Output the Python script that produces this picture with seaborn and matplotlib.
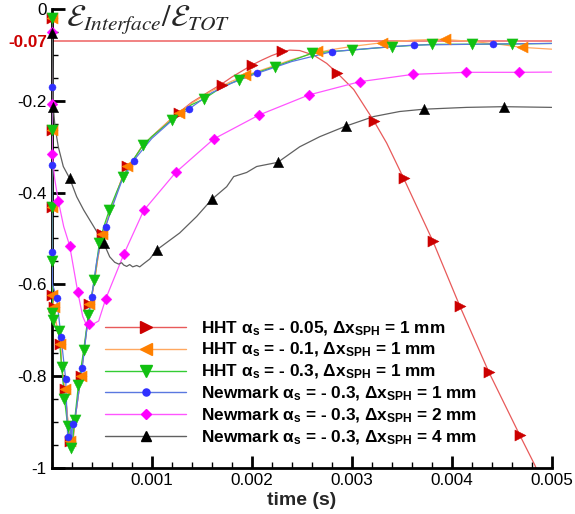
import matplotlib
matplotlib.use("Agg")
import matplotlib.pyplot as plt
from matplotlib.lines import Line2D
from matplotlib.ticker import FixedLocator, MultipleLocator
import seaborn as sns

# ---------------------------------------------------------------
# Interface energy ratio E_interface / E_TOT versus time (s)
# ---------------------------------------------------------------

# HHT alpha_s = -0.05, dx = 1 mm
t_hht005 = [0, 0.000001, 0.000002, 0.000004, 0.000008, 0.00002, 0.00004, 0.00007, 0.00009, 0.0001,
            0.00013, 0.00015, 0.00017, 0.00019, 0.00021, 0.00023, 0.00028, 0.00032, 0.00037, 0.00043,
            0.00046, 0.0005, 0.00055, 0.0006, 0.0007, 0.0008, 0.0009, 0.001, 0.0012, 0.0014,
            0.0016, 0.0017, 0.0018, 0.0019, 0.002, 0.0021, 0.0022, 0.0023, 0.00238, 0.00248,
            0.00262, 0.00275, 0.00285, 0.00302, 0.00322, 0.00335, 0.00352, 0.00381, 0.00408, 0.00437,
            0.00468, 0.00483, 0.0049]
e_hht005 = [-0.02, -0.26, -0.43, -0.55, -0.62, -0.65, -0.68, -0.71, -0.74, -0.78,
            -0.83, -0.87, -0.92, -0.955, -0.95, -0.90, -0.82, -0.75, -0.665, -0.59,
            -0.545, -0.495, -0.465, -0.432, -0.37, -0.335, -0.30, -0.278, -0.238, -0.203,
            -0.176, -0.163, -0.148, -0.135, -0.122, -0.111, -0.101, -0.093, -0.089, -0.09,
            -0.10, -0.118, -0.138, -0.175, -0.243, -0.292, -0.369, -0.505, -0.647, -0.791,
            -0.929, -0.994, -1.03]
tm_hht005 = [0, 0.000001, 0.000002, 0.000005, 0.000026, 0.00008, 0.00013, 0.00018, 0.00029, 0.00037,
             0.0005, 0.00075, 0.00127, 0.0017, 0.002, 0.0023, 0.00285, 0.00322, 0.00352, 0.00381,
             0.00408, 0.00437, 0.00468]
em_hht005 = [-0.02, -0.263, -0.431, -0.624, -0.649, -0.73, -0.829, -0.943, -0.80, -0.642,
             -0.49, -0.342, -0.226, -0.165, -0.122, -0.091, -0.138, -0.243, -0.369, -0.505,
             -0.647, -0.791, -0.929]

# HHT alpha_s = -0.1, dx = 1 mm
t_hht01 = [0, 0.000001, 0.000002, 0.000004, 0.000008, 0.00002, 0.00004, 0.00007, 0.00009, 0.0001,
           0.00013, 0.00015, 0.00017, 0.00019, 0.00021, 0.00023, 0.00028, 0.00032, 0.00037, 0.00043,
           0.00046, 0.0005, 0.00055, 0.0006, 0.0007, 0.0008, 0.0009, 0.001, 0.0012, 0.0014,
           0.0016, 0.0018, 0.002, 0.0022, 0.0024, 0.0026, 0.0028, 0.003, 0.0033, 0.0036,
           0.0039, 0.0042, 0.0045, 0.0047, 0.005]
e_hht01 = [-0.02, -0.26, -0.43, -0.55, -0.62, -0.65, -0.68, -0.71, -0.74, -0.78,
           -0.83, -0.87, -0.92, -0.955, -0.95, -0.90, -0.82, -0.75, -0.665, -0.59,
           -0.545, -0.495, -0.465, -0.432, -0.37, -0.335, -0.30, -0.278, -0.238, -0.205,
           -0.178, -0.157, -0.14, -0.125, -0.11, -0.097, -0.088, -0.081, -0.073, -0.0675,
           -0.0655, -0.070, -0.077, -0.083, -0.087]
tm_hht01 = [0, 0.000001, 0.000002, 0.000005, 0.000026, 0.00008, 0.00013, 0.00018, 0.00029, 0.00037,
            0.0005, 0.00075, 0.00127, 0.00193, 0.00265, 0.0033, 0.00393, 0.0047]
em_hht01 = [-0.02, -0.263, -0.431, -0.624, -0.649, -0.73, -0.829, -0.943, -0.80, -0.642,
            -0.49, -0.342, -0.226, -0.143, -0.092, -0.073, -0.0655, -0.083]

# HHT alpha_s = -0.3, dx = 1 mm
t_hht03 = [0, 0.000001, 0.000002, 0.000003, 0.000008, 0.000012, 0.00003, 0.00007, 0.0001, 0.000128,
           0.00016, 0.000195, 0.00021, 0.00023, 0.000267, 0.00032, 0.000366, 0.000426, 0.000476, 0.00052,
           0.000576, 0.00065, 0.000716, 0.0008, 0.000916, 0.001, 0.0012, 0.0014, 0.00152, 0.0017,
           0.00187, 0.002, 0.00223, 0.0024, 0.0026, 0.0028, 0.003, 0.0034, 0.0038, 0.0042,
           0.0046, 0.005]
e_hht03 = [-0.02, -0.263, -0.431, -0.55, -0.662, -0.678, -0.69, -0.703, -0.78, -0.85,
           -0.91, -0.958, -0.94, -0.896, -0.82, -0.743, -0.667, -0.591, -0.51, -0.475,
           -0.438, -0.398, -0.365, -0.333, -0.296, -0.278, -0.2416, -0.208, -0.196, -0.17,
           -0.154, -0.142, -0.125, -0.112, -0.096, -0.092, -0.089, -0.0816, -0.0764, -0.0762,
           -0.0757, -0.0745]
tm_hht03 = [0, 0.000001, 0.000002, 0.000003, 0.000008, 0.000012, 0.00007, 0.0001, 0.000128, 0.00016,
            0.000195, 0.00023, 0.000267, 0.00032, 0.000366, 0.000426, 0.000476, 0.000576, 0.000716, 0.000916,
            0.0012, 0.00152, 0.00187, 0.00223, 0.0026, 0.003, 0.0034, 0.0038, 0.0042, 0.0046]
em_hht03 = [-0.02, -0.263, -0.431, -0.55, -0.662, -0.678, -0.703, -0.78, -0.85, -0.91,
            -0.958, -0.896, -0.82, -0.743, -0.667, -0.591, -0.51, -0.438, -0.365, -0.296,
            -0.2416, -0.196, -0.154, -0.125, -0.096, -0.089, -0.0816, -0.0764, -0.0762, -0.0757]

# Newmark alpha_s = -0.3, dx = 1 mm
t_nm1 = [0, 0.0000005, 0.0000015, 0.000003, 0.000008, 0.00005, 0.000093, 0.00014, 0.00016, 0.00018,
         0.00019, 0.0002, 0.00021, 0.000216, 0.00023, 0.00028, 0.000306, 0.00035, 0.0004, 0.00045,
         0.0005, 0.00054, 0.0006, 0.0007, 0.00082, 0.001, 0.0012, 0.00137, 0.0016, 0.0018,
         0.00205, 0.0024, 0.0028, 0.0032, 0.00362, 0.00441, 0.005]
e_nm1 = [-0.02, -0.17, -0.34, -0.53, -0.60, -0.63, -0.714, -0.807, -0.934, -0.96,
         -0.90, -0.955, -0.89, -0.905, -0.90, -0.82, -0.782, -0.70, -0.627, -0.55,
         -0.497, -0.474, -0.435, -0.375, -0.33, -0.282, -0.243, -0.218, -0.182, -0.161,
         -0.14, -0.114, -0.0925, -0.085, -0.078, -0.0757, -0.0745]
tm_nm1 = [0.0000005, 0.0000015, 0.000003, 0.00005, 0.000093, 0.00014, 0.00016, 0.000216, 0.000306, 0.0004,
          0.00054, 0.00082, 0.00137, 0.00205, 0.0028, 0.00362, 0.00441]
em_nm1 = [-0.17, -0.34, -0.53, -0.63, -0.714, -0.807, -0.934, -0.905, -0.782, -0.627,
          -0.474, -0.33, -0.218, -0.14, -0.0925, -0.078, -0.0757]

# Newmark alpha_s = -0.3, dx = 2 mm
t_nm2 = [0, 0.0000005, 0.000005, 0.00003, 0.000066, 0.00012, 0.00018, 0.00026, 0.00031, 0.00034,
         0.00037, 0.0004, 0.00043, 0.00047, 0.00054, 0.00072, 0.00092, 0.00124, 0.00162, 0.00207,
         0.00257, 0.00308, 0.00361, 0.00414, 0.00467, 0.005]
e_nm2 = [-0.049, -0.207, -0.316, -0.37, -0.418, -0.474, -0.516, -0.616, -0.67, -0.685,
         -0.687, -0.69, -0.685, -0.68, -0.632, -0.535, -0.439, -0.356, -0.283, -0.231,
         -0.187, -0.158, -0.142, -0.1375, -0.1375, -0.137]
tm_nm2 = [0, 0.0000005, 0.000005, 0.000066, 0.00018, 0.00026, 0.00037, 0.00054, 0.00072, 0.00092,
          0.00124, 0.00162, 0.00207, 0.00257, 0.00308, 0.00361, 0.00414, 0.00467]
em_nm2 = [-0.049, -0.207, -0.316, -0.418, -0.516, -0.616, -0.687, -0.632, -0.535, -0.439,
          -0.356, -0.283, -0.231, -0.187, -0.158, -0.142, -0.1375, -0.1375]

# Newmark alpha_s = -0.3, dx = 4 mm
t_nm4 = [0, 0.000006, 0.000016, 0.000033, 0.000066, 0.000116, 0.00018, 0.00025, 0.00032, 0.00042,
         0.00052, 0.00058, 0.00063, 0.00067, 0.0007, 0.00072, 0.00075, 0.00078, 0.00081, 0.00085,
         0.00088, 0.00092, 0.00098, 0.00105, 0.00128, 0.00145, 0.0016, 0.00175, 0.00182, 0.00195,
         0.00205, 0.00226, 0.00248, 0.00268, 0.00294, 0.00322, 0.00348, 0.00372, 0.00415, 0.00452,
         0.005]
e_nm4 = [-0.02, -0.052, -0.214, -0.256, -0.30, -0.343, -0.369, -0.409, -0.438, -0.474,
         -0.51, -0.54, -0.552, -0.556, -0.553, -0.558, -0.561, -0.557, -0.562, -0.559,
         -0.562, -0.555, -0.545, -0.525, -0.488, -0.452, -0.415, -0.387, -0.365, -0.356,
         -0.343, -0.334, -0.30, -0.278, -0.255, -0.234, -0.223, -0.218, -0.214, -0.2125,
         -0.214]
tm_nm4 = [0.000006, 0.000016, 0.00018, 0.00052, 0.00105, 0.0016, 0.00226, 0.00294, 0.00372, 0.00452]
em_nm4 = [-0.052, -0.214, -0.369, -0.51, -0.525, -0.415, -0.334, -0.255, -0.218, -0.2125]

labels = [
    r"HHT α$_\mathbf{s}$ = - 0.05, Δx$_\mathbf{SPH}$ = 1 mm",
    r"HHT α$_\mathbf{s}$ = - 0.1, Δx$_\mathbf{SPH}$ = 1 mm",
    r"HHT α$_\mathbf{s}$ = - 0.3, Δx$_\mathbf{SPH}$ = 1 mm",
    r"Newmark α$_\mathbf{s}$ = - 0.3, Δx$_\mathbf{SPH}$ = 1 mm",
    r"Newmark α$_\mathbf{s}$ = - 0.3, Δx$_\mathbf{SPH}$ = 2 mm",
    r"Newmark α$_\mathbf{s}$ = - 0.3, Δx$_\mathbf{SPH}$ = 4 mm",
]

x_ticks = [0.001, 0.002, 0.003, 0.004, 0.005]
x_ticklabels = ["0.001", "0.002", "0.003", "0.004", "0.005"]
y_ticks = [0, -0.07, -0.2, -0.4, -0.6, -0.8, -1]
y_ticklabels = ["0", "-0.07", "-0.2", "-0.4", "-0.6", "-0.8", "-1"]
ref_level = -0.07

sns.set_style("ticks")
plt.rcParams["font.family"] = ["Liberation Sans", "DejaVu Sans"]
plt.rcParams["axes.unicode_minus"] = False
plt.rcParams["mathtext.fontset"] = "custom"
plt.rcParams["mathtext.rm"] = "Liberation Sans"
plt.rcParams["mathtext.bf"] = "Liberation Sans:bold"
plt.rcParams["mathtext.it"] = "Liberation Sans:italic"

fig = plt.figure(figsize=(5.75, 5.14), dpi=100)
ax = fig.add_axes([0.0899, 0.0903, 0.8696, 0.8916])

series = [
    (t_hht005, e_hht005, tm_hht005, em_hht005, "#e85a5a", "#cc0000", ">", 64),
    (t_hht01, e_hht01, tm_hht01, em_hht01, "#ffa860", "#ff8000", "<", 64),
    (t_hht03, e_hht03, tm_hht03, em_hht03, "#33cc33", "#11c011", "v", 64),
    (t_nm1, e_nm1, tm_nm1, em_nm1, "#5a78e0", "#3030ff", "o", 26),
    (t_nm2, e_nm2, tm_nm2, em_nm2, "#ff55ff", "#ff00ff", "D", 30),
    (t_nm4, e_nm4, tm_nm4, em_nm4, "#606060", "#000000", "^", 56),
]

ax.axhline(ref_level, color="#f07878", lw=1.3, zorder=1)

handles = []
for i, (t, e, tm, em, lc, mc, mk, ms) in enumerate(series):
    sns.lineplot(x=t, y=e, ax=ax, color=lc, lw=0.9, estimator=None, sort=False,
                 legend=False, zorder=2 + i)
    sns.scatterplot(x=tm, y=em, ax=ax, marker=mk, s=ms, color=mc, edgecolor=mc,
                    linewidth=0.3, legend=False, zorder=10 + i, clip_on=False)
    handles.append(Line2D([], [], color=lc, lw=1.0, marker=mk, markersize=ms ** 0.5,
                          markerfacecolor=mc, markeredgecolor=mc))

ax.set_xlim(0, 0.005)
ax.set_ylim(-1, 0)
ax.xaxis.set_major_locator(FixedLocator(x_ticks))
ax.set_xticklabels(x_ticklabels)
ax.xaxis.set_minor_locator(MultipleLocator(0.0002))
ax.yaxis.set_major_locator(FixedLocator(y_ticks))
ax.set_yticklabels(y_ticklabels)
ax.yaxis.set_minor_locator(MultipleLocator(0.05))

for side in ("top", "right"):
    ax.spines[side].set_visible(False)
for side in ("left", "bottom"):
    ax.spines[side].set_linewidth(2.0)
    ax.spines[side].set_color("black")

ax.tick_params(which="major", direction="in", length=9, width=2, labelsize=12.3,
               colors="black", pad=4)
ax.tick_params(which="minor", direction="in", length=4.5, width=1, colors="black")
ax.tick_params(axis="y", which="major", pad=3.5)

ylabels = ax.get_yticklabels()
ylabels[1].set_color("#cc0000")
ylabels[1].set_fontweight("bold")
ax.yaxis.get_major_ticks()[1].tick1line.set_visible(False)

ax.set_xlabel("time (s)", fontsize=14, fontweight="bold", labelpad=3)
ax.set_ylabel("")

fig.text(0.114, 0.962, r"$\mathcal{E}_{Interface}/\mathcal{E}_{TOT}$", fontsize=22,
         math_fontfamily="stix", ha="left", va="center")

leg = ax.legend(handles, labels, loc="upper left", bbox_to_anchor=(0.183, 0.379),
                bbox_transform=fig.transFigure, frameon=False, borderpad=0,
                borderaxespad=0, handlelength=4.7, handletextpad=0.85,
                labelspacing=0.2, prop={"weight": "bold", "size": 12.4})
for txt in leg.get_texts():
    txt.set_color("black")

ax.grid(False)
fig.savefig("out.png", dpi=100)
